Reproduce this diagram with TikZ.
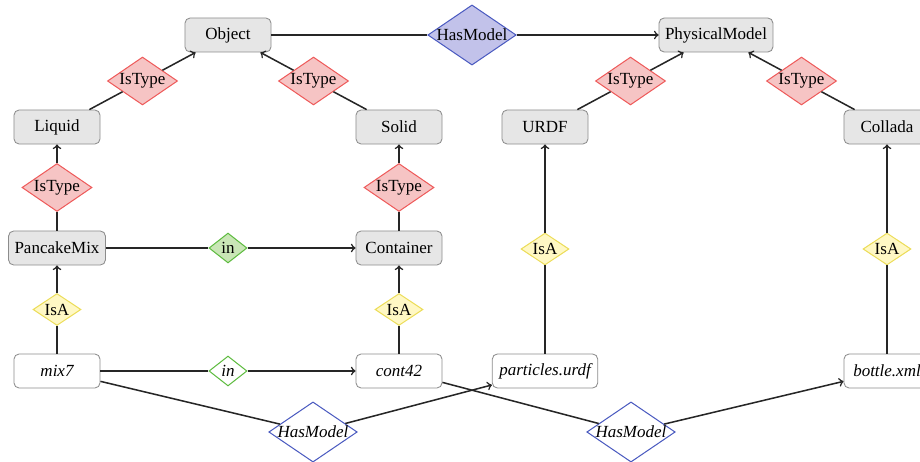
\documentclass[tikz,border=0pt]{standalone}
\usepackage{fontspec}
\setmainfont{Liberation Serif}
\usetikzlibrary{shapes.geometric}
\definecolor{boxfill}{HTML}{E6E6E6}
\definecolor{boxline}{HTML}{8C8C8C}
\definecolor{redfill}{HTML}{F6C4C4}
\definecolor{redline}{HTML}{EE5A5A}
\definecolor{yelfill}{HTML}{FFF8C4}
\definecolor{yelline}{HTML}{ECDD5A}
\definecolor{grnfill}{HTML}{C9E6B6}
\definecolor{grnline}{HTML}{5DBB3F}
\definecolor{blufill}{HTML}{C2C2EA}
\definecolor{bluline}{HTML}{4A5AC0}
\begin{document}
\begin{tikzpicture}[x=0.5882pt, y=-0.5882pt, font=\fontsize{10}{12}\selectfont,
  cls/.style={draw=boxline, fill=boxfill, rounded corners=3pt, minimum width=50.6pt, minimum height=20pt, inner xsep=3.5pt, line width=0.5pt},
  inst/.style={cls, fill=white, font=\fontsize{10}{12}\selectfont\itshape},
  dia/.style={diamond, inner sep=0pt, line width=0.6pt},
  istype/.style={dia, draw=redline, fill=redfill, minimum width=41.2pt, minimum height=28.2pt, shape aspect=1.46},
  isa/.style={dia, draw=yelline, fill=yelfill, minimum width=28.2pt, minimum height=18.8pt, shape aspect=1.5},
  inrel/.style={dia, draw=grnline, fill=grnfill, minimum width=22.4pt, minimum height=17.6pt, shape aspect=1.27},
  inrelw/.style={inrel, fill=white, font=\fontsize{10}{12}\selectfont\itshape},
  hasm/.style={dia, draw=bluline, fill=blufill, minimum width=51.8pt, minimum height=35.3pt, shape aspect=1.47},
  hasmw/.style={hasm, fill=white, minimum height=34.1pt, font=\fontsize{10}{12}\selectfont\itshape},
  conn/.style={draw=black!85, line width=0.9pt},
  arr/.style={conn, ->}]
\useasboundingbox (0,0) rectangle (920,462);
\clip (0,0) rectangle (920,462);
% classes
\node[cls] (obj) at (228,35) {Object};
\node[cls] (phys) at (716,35) {PhysicalModel};
\node[cls] (liquid) at (57,127) {Liquid};
\node[cls] (solid) at (399,127) {Solid};
\node[cls] (urdf) at (545,127) {URDF};
\node[cls] (collada) at (887,127) {Collada};
\node[cls] (pancake) at (57,248) {PancakeMix};
\node[cls] (container) at (399,248) {Container};
% instances
\node[inst] (mix) at (57,371) {mix7};
\node[inst] (cont) at (399,371) {cont42};
\node[inst, minimum width=62pt] (particles) at (545,371) {particles.urdf};
\node[inst] (bottle) at (887,371) {bottle.xml};
% relations
\node[hasm] (hm0) at (472,35) {HasModel};
\node[istype] (t1) at (142.5,81) {IsType};
\node[istype] (t2) at (313.5,81) {IsType};
\node[istype] (t3) at (630.5,81) {IsType};
\node[istype] (t4) at (801.5,81) {IsType};
\node[istype] (t5) at (57,187.5) {IsType};
\node[istype] (t6) at (399,187.5) {IsType};
\node[inrel] (in1) at (228,248) {in};
\node[isa] (a1) at (57,309.5) {IsA};
\node[isa] (a2) at (399,309.5) {IsA};
\node[isa] (a3) at (545,249) {IsA};
\node[isa] (a4) at (887,249) {IsA};
\node[inrelw] (in2) at (228,371) {in};
\node[hasmw] (hm1) at (313,432) {HasModel};
\node[hasmw] (hm2) at (631,432) {HasModel};
% connectors
\draw[conn] (obj) -- (hm0);
\draw[arr] (hm0) -- (phys);
\draw[conn] (liquid) -- (t1);
\draw[arr] (t1) -- (obj);
\draw[conn] (solid) -- (t2);
\draw[arr] (t2) -- (obj);
\draw[conn] (urdf) -- (t3);
\draw[arr] (t3) -- (phys);
\draw[conn] (collada) -- (t4);
\draw[arr] (t4) -- (phys);
\draw[conn] (pancake) -- (t5);
\draw[arr] (t5) -- (liquid);
\draw[conn] (container) -- (t6);
\draw[arr] (t6) -- (solid);
\draw[conn] (pancake) -- (in1);
\draw[arr] (in1) -- (container);
\draw[conn] (mix) -- (a1);
\draw[arr] (a1) -- (pancake);
\draw[conn] (cont) -- (a2);
\draw[arr] (a2) -- (container);
\draw[conn] (particles) -- (a3);
\draw[arr] (a3) -- (urdf);
\draw[conn] (bottle) -- (a4);
\draw[arr] (a4) -- (collada);
\draw[conn] (mix) -- (in2);
\draw[arr] (in2) -- (cont);
\draw[conn] (mix) -- (hm1);
\draw[arr] (hm1) -- (particles);
\draw[conn] (cont) -- (hm2);
\draw[arr] (hm2) -- (bottle);
\end{tikzpicture}
\end{document}
